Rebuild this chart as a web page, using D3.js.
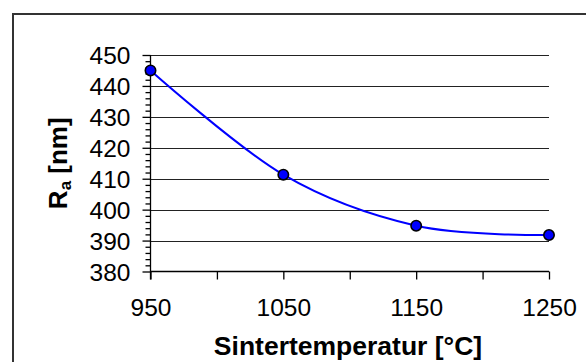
<!DOCTYPE html>
<html>
<head>
<meta charset="utf-8">
<script src="https://cdn.jsdelivr.net/npm/d3@7"></script>
<style>
  html, body { margin: 0; padding: 0; background: #fff; }
  svg { display: block; }
  text { font-family: "Liberation Sans", Arial, sans-serif; fill: #000; }
</style>
</head>
<body>
<svg id="chart" width="586" height="362"></svg>
<script>
// Sintering temperature (°C) and mean roughness Ra (nm)
const temperatures = [950, 1050, 1150, 1250];
const roughness = [445, 411.3, 394.8, 391.8];
const xTickValues = [950, 1000, 1050, 1100, 1150, 1200, 1250];
const xTickLabels = ["950", "", "1050", "", "1150", "", "1250"];
const yTickValues = [380, 390, 400, 410, 420, 430, 440, 450];

const svg = d3.select("#chart");
const W = 586, H = 362;

svg.append("rect").attr("width", W).attr("height", H).attr("fill", "#fff");

// outer chart frame (runs past the right and bottom edges)
svg.append("rect")
  .attr("x", 13).attr("y", 14)
  .attr("width", 620).attr("height", 400)
  .attr("fill", "none").attr("stroke", "#333").attr("stroke-width", 2);

const x = d3.scaleLinear().domain([950, 1250]).range([150.5, 549]);
const y = d3.scaleLinear().domain([380, 450]).range([271.5, 55]);

// horizontal gridlines
svg.append("g").selectAll("line")
  .data(yTickValues.filter(v => v > 380))
  .join("line")
  .attr("x1", x(950)).attr("x2", x(1250))
  .attr("y1", d => Math.round(y(d)) + 0.5).attr("y2", d => Math.round(y(d)) + 0.5)
  .attr("stroke", "#222").attr("stroke-width", 1);

// y axis with minor ticks every 2 nm
const yAxis = d3.axisLeft(y).tickValues(yTickValues).tickSize(8).tickFormat(d3.format("d")).tickPadding(12);
const yMinor = d3.axisLeft(y).tickValues(d3.range(380, 451, 2).filter(v => v % 10 !== 0)).tickSize(5).tickFormat("");

const gy = svg.append("g").attr("transform", `translate(${x(950)},0)`).call(yAxis);
svg.append("g").attr("transform", `translate(${x(950)},0)`).call(yMinor)
  .call(g => g.select(".domain").remove());
gy.select(".domain").attr("d", `M0,${y(450)}V${y(380) + 8}`);
gy.selectAll(".tick text").attr("font-size", 24.5).attr("dy", "0.36em");

// x axis
const xAxis = d3.axisBottom(x).tickValues(xTickValues).tickSize(8)
  .tickFormat((d, i) => xTickLabels[i]).tickPadding(19);
const gx = svg.append("g").attr("transform", `translate(0,${y(380)})`).call(xAxis);
gx.select(".domain").attr("d", `M${x(950)},0H${x(1250)}`);
gx.selectAll(".tick text").attr("font-size", 24.5);

svg.selectAll(".domain, .tick line").attr("stroke", "#000").attr("stroke-width", 1.3);

// axis titles
svg.append("text")
  .attr("x", 348).attr("y", 355)
  .attr("text-anchor", "middle")
  .attr("font-size", 26.5).attr("font-weight", "bold")
  .text("Sintertemperatur [°C]");

const yt = svg.append("text")
  .attr("transform", `translate(67,${(y(380) + y(450)) / 2}) rotate(-90)`)
  .attr("text-anchor", "middle")
  .attr("font-size", 26).attr("font-weight", "bold");
yt.append("tspan").text("R");
yt.append("tspan").attr("font-size", 17).attr("dy", 4).text("a");
yt.append("tspan").attr("dy", -4).text(" [nm]");

// smoothed data line and markers
const pts = temperatures.map((t, i) => [t, roughness[i]]);
svg.append("path")
  .datum(pts)
  .attr("d", d3.line().x(d => x(d[0])).y(d => y(d[1])).curve(d3.curveCatmullRom.alpha(0)))
  .attr("fill", "none").attr("stroke", "#0000ff").attr("stroke-width", 2);

svg.append("g").selectAll("circle")
  .data(pts)
  .join("circle")
  .attr("cx", d => x(d[0])).attr("cy", d => y(d[1]))
  .attr("r", 5.2)
  .attr("fill", "#0000ff").attr("stroke", "#000").attr("stroke-width", 1.6);
</script>
</body>
</html>
